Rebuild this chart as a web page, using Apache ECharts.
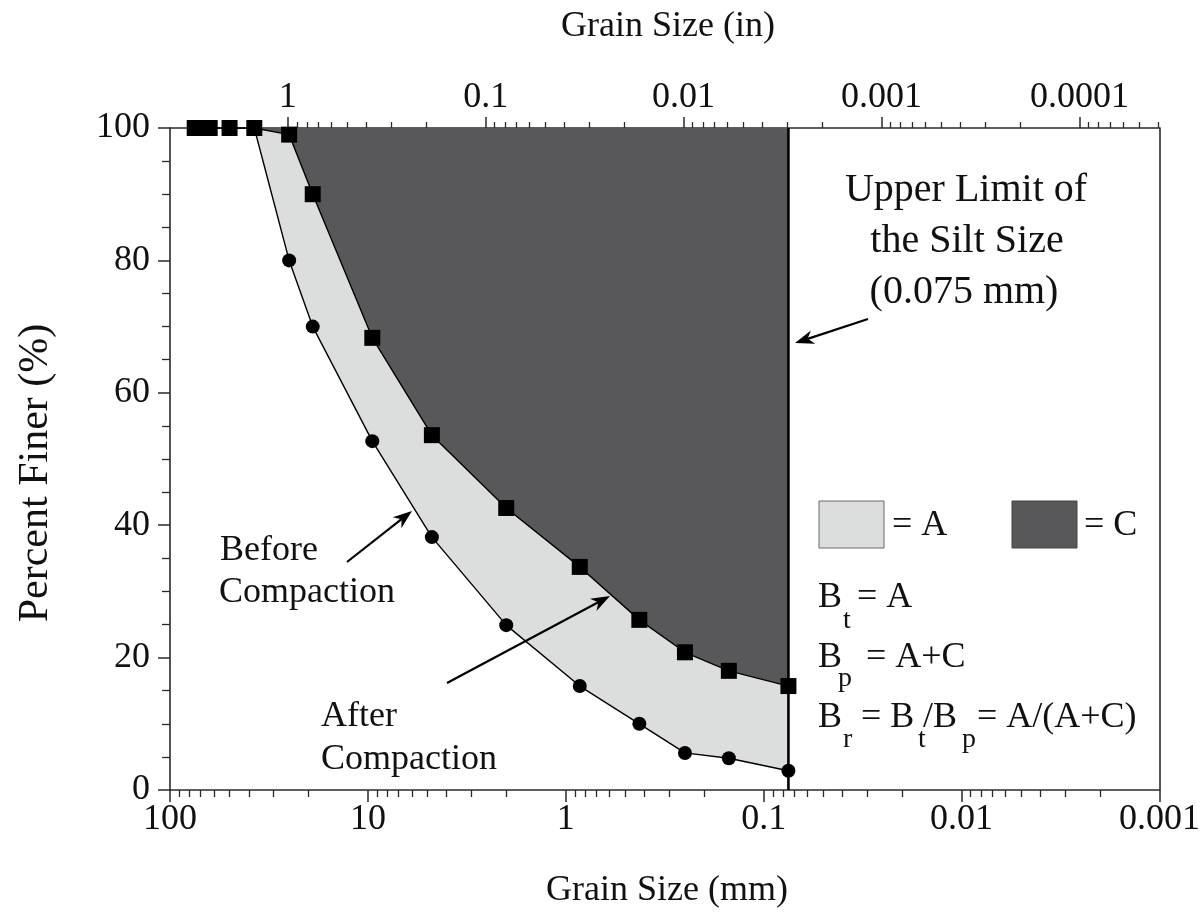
<!DOCTYPE html>
<html><head><meta charset="utf-8">
<script src="https://cdn.jsdelivr.net/npm/echarts@6/dist/echarts.min.js"></script>
<style>html,body{margin:0;padding:0;background:#fff}#c{width:1203px;height:914px}</style>
</head><body><div id="c"></div>
<script>
// ---- data ----
const sizeMm     = [75, 63, 50, 37.5, 25, 19, 9.5, 4.75, 2.0, 0.85, 0.425, 0.25, 0.15, 0.075];
const afterPct   = [100, 100, 100, 100, 99, 90, 68.3, 53.6, 42.6, 33.7, 25.7, 20.8, 18.0, 15.7];
const beforePct  = [100, 100, 100, 100, 80, 70, 52.7, 38.2, 24.9, 15.7, 10.0, 5.6, 4.8, 2.9];
const siltLimitMm = 0.075;
const mmTicks    = [100, 10, 1, 0.1, 0.01, 0.001];
const mmTickLabels = ['100', '10', '1', '0.1', '0.01', '0.001'];
const inTicks    = [1, 0.1, 0.01, 0.001, 0.0001];
const inTickLabels = ['1', '0.1', '0.01', '0.001', '0.0001'];
const yTicks = [0, 20, 40, 60, 80, 100];
const MM_PER_IN = 25.4;
const X_MIN_MM = 0.001, X_MAX_MM = 100;

const FONT = '"Liberation Serif","Times New Roman",serif';
const LIGHT = '#dcdddd', DARK = '#58585a', AXIS = '#2a2a2a';

function minorTicks(lo, hi) {
  const out = [];
  for (let k = -7; k <= 3; k++) for (let m = 2; m <= 9; m++) {
    const v = m * Math.pow(10, k);
    if (v > lo * 1.000001 && v < hi * 0.999999) out.push(v);
  }
  return out;
}
function labelFor(ticks, labels) {
  return function (v) {
    for (let i = 0; i < ticks.length; i++) {
      if (Math.abs(Math.log10(v) - Math.log10(ticks[i])) < 1e-6) return labels[i];
    }
    return '';
  };
}
function arrow(x1, y1, x2, y2) {
  const dx = x2 - x1, dy = y2 - y1, L = Math.hypot(dx, dy);
  const ux = dx / L, uy = dy / L, px = -uy, py = ux;
  const hl = 19, hw = 7;
  const bx = x2 - ux * hl, by = y2 - uy * hl;
  const ix = x2 - ux * hl * 0.7, iy = y2 - uy * hl * 0.7;
  return [
    { type: 'line', z: 100, shape: { x1: x1, y1: y1, x2: ix, y2: iy }, style: { stroke: '#000', lineWidth: 2.2 } },
    { type: 'polygon', z: 100, shape: { points: [[x2, y2], [bx + px * hw, by + py * hw], [ix, iy], [bx - px * hw, by - py * hw]] }, style: { fill: '#000' } }
  ];
}
function txt(s, x, y, size, align) {
  return { type: 'text', z: 100, x: x, y: y, style: { text: s, font: size + 'px ' + FONT, fill: '#111', align: align || 'left', verticalAlign: 'middle' } };
}

const tickFont = { fontSize: 36, fontFamily: FONT, color: '#111' };

const chart = echarts.init(document.getElementById('c'));
const option = {
  animation: false,
  backgroundColor: '#fff',
  grid: { left: 170, right: 38, top: 128, bottom: 124 },
  xAxis: [
    { type: 'log', min: X_MIN_MM, max: X_MAX_MM, inverse: true, position: 'bottom', gridIndex: 0,
      axisLine: { show: true, lineStyle: { color: AXIS, width: 1.6 } },
      axisTick: { show: true, length: 12, lineStyle: { color: AXIS, width: 1.5 }, customValues: mmTicks },
      axisLabel: Object.assign({ margin: 12, customValues: mmTicks, formatter: labelFor(mmTicks, mmTickLabels) }, tickFont),
      splitLine: { show: false } },
    { type: 'log', min: X_MIN_MM, max: X_MAX_MM, inverse: true, position: 'bottom', gridIndex: 0,
      axisLine: { show: false },
      axisTick: { show: true, length: 7, lineStyle: { color: AXIS, width: 1.3 }, customValues: minorTicks(X_MIN_MM, X_MAX_MM) },
      axisLabel: { show: false }, splitLine: { show: false } },
    { type: 'log', min: X_MIN_MM / MM_PER_IN, max: X_MAX_MM / MM_PER_IN, inverse: true, position: 'top', gridIndex: 0,
      axisLine: { show: true, lineStyle: { color: AXIS, width: 1.6 } },
      axisTick: { show: true, length: 11, lineStyle: { color: AXIS, width: 1.5 }, customValues: inTicks },
      axisLabel: Object.assign({ margin: 12, customValues: inTicks, formatter: labelFor(inTicks, inTickLabels) }, tickFont),
      splitLine: { show: false } },
    { type: 'log', min: X_MIN_MM / MM_PER_IN, max: X_MAX_MM / MM_PER_IN, inverse: true, position: 'top', gridIndex: 0,
      axisLine: { show: false },
      axisTick: { show: true, length: 6, lineStyle: { color: AXIS, width: 1.3 }, customValues: minorTicks(X_MIN_MM / MM_PER_IN, X_MAX_MM / MM_PER_IN) },
      axisLabel: { show: false }, splitLine: { show: false } }
  ],
  yAxis: [
    { type: 'value', min: 0, max: 100, interval: 20, position: 'left',
      axisLine: { show: true, lineStyle: { color: AXIS, width: 1.6 } },
      axisTick: { show: true, length: 12, lineStyle: { color: AXIS, width: 1.5 } },
      minorTick: { show: true, splitNumber: 4, length: 8, lineStyle: { color: AXIS, width: 1.3 } },
      axisLabel: Object.assign({ margin: 20 }, tickFont),
      splitLine: { show: false } },
    { type: 'value', min: 0, max: 100, interval: 20, position: 'right',
      axisLine: { show: true, lineStyle: { color: AXIS, width: 1.6 } },
      axisTick: { show: false }, axisLabel: { show: false }, splitLine: { show: false } }
  ],
  series: [
    { type: 'custom', xAxisIndex: 0, yAxisIndex: 0, z: 1, silent: true,
      data: [[sizeMm[0], 100]],
      renderItem: function (params, api) {
        const before = sizeMm.map((s, i) => api.coord([s, beforePct[i]]));
        const after = sizeMm.map((s, i) => api.coord([s, afterPct[i]]));
        const top = [api.coord([siltLimitMm, 100]), api.coord([sizeMm[0], 100])];
        return { type: 'group', children: [
          { type: 'polygon', shape: { points: before.concat(after.slice().reverse()) }, style: { fill: LIGHT } },
          { type: 'polygon', shape: { points: after.concat(top) }, style: { fill: DARK } }
        ] };
      } },
    { type: 'line', name: 'Upper limit of silt size', xAxisIndex: 0, yAxisIndex: 0, z: 3, symbol: 'none',
      data: [[siltLimitMm, 0], [siltLimitMm, 100]],
      lineStyle: { color: '#000', width: 2.6 } },
    { type: 'line', name: 'Before Compaction', xAxisIndex: 0, yAxisIndex: 0, z: 4,
      data: sizeMm.map((s, i) => [s, beforePct[i]]),
      symbol: 'circle', symbolSize: 14, showAllSymbol: true,
      itemStyle: { color: '#000' }, lineStyle: { color: '#000', width: 1.4 } },
    { type: 'line', name: 'After Compaction', xAxisIndex: 0, yAxisIndex: 0, z: 5,
      data: sizeMm.map((s, i) => [s, afterPct[i]]),
      symbol: 'rect', symbolSize: 16, showAllSymbol: true,
      itemStyle: { color: '#000' }, lineStyle: { color: '#000', width: 1.4 } }
  ],
  graphic: [].concat(
    [txt('Grain Size (in)', 668, 27, 36, 'center'),
     txt('Grain Size (mm)', 667, 891, 36, 'center'),
     { type: 'text', z: 100, x: 36, y: 473, rotation: Math.PI / 2,
       style: { text: 'Percent Finer (%)', font: '42px ' + FONT, fill: '#111', align: 'center', verticalAlign: 'middle' } },
     txt('Upper Limit of', 966, 190, 40, 'center'),
     txt('the Silt Size', 967, 241, 40, 'center'),
     txt('(0.075 mm)', 964, 292, 40, 'center'),
     txt('Before', 220, 551, 36),
     txt('Compaction', 219, 593, 36),
     txt('After', 321, 717, 36),
     txt('Compaction', 321, 760, 36),
     { type: 'rect', z: 100, shape: { x: 819, y: 501, width: 65, height: 47 }, style: { fill: LIGHT, stroke: '#6a6a6a', lineWidth: 1 } },
     txt('= A', 892, 526, 36),
     { type: 'rect', z: 100, shape: { x: 1012, y: 501, width: 65, height: 47 }, style: { fill: DARK, stroke: '#444', lineWidth: 1 } },
     txt('= C', 1084, 526, 36),
     txt('B', 818, 598, 36), txt('t', 843, 621, 28), txt('= A', 857, 598, 36),
     txt('B', 818, 658, 36), txt('p', 838, 679, 28), txt('= A+C', 866, 658, 36),
     txt('B', 818, 718, 36), txt('r', 843, 740, 28), txt('= B', 861, 718, 36), txt('t', 918, 740, 28),
     txt('/B', 923, 718, 36), txt('p', 962, 740, 28), txt('= A/(A+C)', 977, 718, 36)],
    arrow(868, 319, 795, 343),
    arrow(347, 562, 412, 511),
    arrow(447, 683, 610, 596)
  )
};
chart.setOption(option);
</script>
</body></html>
